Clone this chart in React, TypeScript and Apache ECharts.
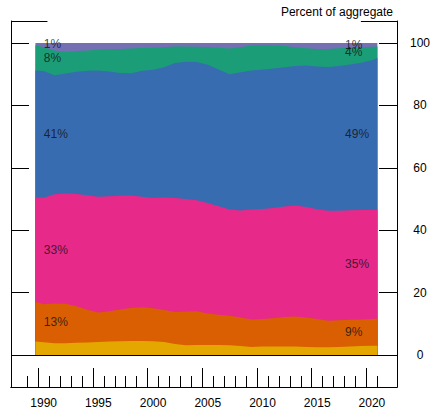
import React, { useEffect, useRef } from "react";
import * as echarts from "echarts";

// Observation dates (decimal years)
const periods = [
  1989.75, 1990.5, 1991.5, 1992.5, 1993.5, 1994.5, 1995.5, 1996.5, 1997.5, 1998.5,
  1999.5, 2000.5, 2001.5, 2002.5, 2003.5, 2004.5, 2005.5, 2006.5, 2007.5, 2008.5,
  2009.5, 2010.5, 2011.5, 2012.5, 2013.5, 2014.5, 2015.5, 2016.5, 2017.5, 2018.5,
  2019.5, 2020.5, 2021.0,
];

// Shares of the aggregate, percent, listed bottom to top of the stack
const shareYellow = [
  4.3, 4.1, 3.8, 3.8, 3.9, 4.0, 4.2, 4.3, 4.4, 4.5, 4.5, 4.4, 4.2, 3.5, 3.1, 3.2, 3.2,
  3.2, 3.1, 2.9, 2.6, 2.7, 2.7, 2.7, 2.7, 2.6, 2.5, 2.5, 2.6, 2.7, 2.9, 3.0, 3.0,
];
const shareOrange = [
  12.8, 12.2, 12.7, 12.6, 11.7, 10.5, 9.4, 9.7, 10.2, 10.6, 10.8, 10.6, 10.2, 10.3, 10.8,
  10.8, 10.1, 9.7, 9.5, 9.1, 8.8, 8.8, 9.1, 9.5, 9.6, 9.4, 9.0, 8.5, 8.5, 8.6, 8.5, 8.5, 8.7,
];
const sharePink = [
  33.4, 34.1, 35.0, 35.4, 36.0, 36.7, 37.1, 36.9, 36.4, 36.0, 35.4, 35.3, 36.1, 36.5, 36.1,
  35.6, 35.4, 34.8, 34.0, 34.3, 35.2, 35.3, 35.3, 35.4, 35.6, 35.4, 35.2, 35.2, 35.1, 35.1,
  35.1, 35.0, 34.9,
];
const shareBlue = [
  40.7, 40.6, 38.2, 38.4, 39.2, 39.9, 40.5, 40.0, 39.4, 39.2, 40.4, 41.1, 41.7, 43.3, 44.0,
  44.3, 44.3, 43.8, 43.4, 44.3, 44.6, 44.7, 44.7, 44.6, 44.7, 45.4, 45.8, 46.1, 46.4, 46.7,
  47.2, 48.0, 48.6,
];
const shareGreen = [
  8.1, 7.6, 7.9, 7.0, 6.6, 6.5, 6.6, 7.1, 7.7, 7.9, 7.3, 7.1, 6.4, 5.3, 4.9, 4.9, 5.7, 7.0,
  8.2, 8.0, 8.0, 7.8, 7.4, 6.8, 6.0, 5.5, 5.6, 5.8, 5.7, 5.4, 4.9, 4.3, 3.7,
];
const sharePurple = [
  0.7, 1.4, 2.4, 2.8, 2.6, 2.4, 2.2, 2.0, 1.9, 1.8, 1.6, 1.5, 1.4, 1.1, 1.1, 1.2, 1.3, 1.5,
  1.8, 1.4, 0.8, 0.7, 0.8, 1.0, 1.4, 1.7, 1.9, 1.9, 1.7, 1.5, 1.4, 1.2, 1.1,
];

// Axis ticks and labels
const yTicks = [0, 20, 40, 60, 80, 100];
const yearTicks = [
  1989, 1990, 1991, 1992, 1993, 1994, 1995, 1996, 1997, 1998, 1999, 2000, 2001, 2002,
  2003, 2004, 2005, 2006, 2007, 2008, 2009, 2010, 2011, 2012, 2013, 2014, 2015, 2016,
  2017, 2018, 2019, 2020, 2021,
];
const majorYears = [1990, 1995, 2000, 2005, 2010, 2015, 2020];

const bands = [
  { name: "Yellow", color: "#E4A700", values: shareYellow, labelled: false },
  { name: "Orange", color: "#D95F02", values: shareOrange, labelled: true },
  { name: "Pink", color: "#E7298A", values: sharePink, labelled: true },
  { name: "Blue", color: "#386CB0", values: shareBlue, labelled: true },
  { name: "Green", color: "#1B9E77", values: shareGreen, labelled: true },
  { name: "Purple", color: "#7570B3", values: sharePurple, labelled: true },
];

// Axis extents chosen so the frame sits around the plotted period
const X_MIN = 1987.518;
const X_MAX = 2022.79;
const Y_MIN = -10.26;
const Y_MAX = 107.05;
const LEFT_LABEL_X = 1990.52;
const RIGHT_LABEL_X = 2018.05;
const FONT = "'Liberation Sans', Arial, Helvetica, sans-serif";

// Running totals: tops[k][i] is the upper edge of band k at period i
function cumulativeTops() {
  const tops: number[][] = [];
  const running = periods.map(() => 0);
  for (const b of bands) {
    b.values.forEach((v, i) => {
      running[i] += v;
    });
    tops.push(running.slice());
  }
  return tops;
}

function bandLabels(index: number, x: number) {
  const out: { value: number[]; name: string }[] = [];
  let base = 0;
  for (const b of bands) {
    const v = b.values[index];
    if (b.labelled) {
      out.push({ value: [x, base + v / 2], name: `${Math.round(v)}%` });
    }
    base += v;
  }
  return out;
}

export default function App() {
  const ref = useRef<HTMLDivElement>(null);

  useEffect(() => {
    if (!ref.current) return;
    const chart = echarts.init(ref.current, undefined, { renderer: "svg" });

    const tops = cumulativeTops();
    // Each band is filled from zero up to its running total; the upper bands are
    // drawn first so every lower band paints over them.
    const areaSeries = bands
      .map((b, k) => ({
        name: b.name,
        type: "line",
        xAxisIndex: 0,
        yAxisIndex: 0,
        symbol: "none",
        lineStyle: { width: 0 },
        areaStyle: { color: b.color, opacity: 1 },
        itemStyle: { color: b.color },
        data: periods.map((t, i) => [t, tops[k][i]]),
      }))
      .reverse();

    const lastIndex = periods.length - 1;
    const labelSeries = {
      type: "scatter",
      xAxisIndex: 0,
      yAxisIndex: 0,
      symbolSize: 1,
      itemStyle: { color: "transparent" },
      z: 5,
      label: {
        show: true,
        formatter: "{b}",
        position: "inside",
        align: "left",
        verticalAlign: "middle",
        color: "#111",
        fontSize: 12,
        fontFamily: FONT,
      },
      data: [...bandLabels(0, LEFT_LABEL_X), ...bandLabels(lastIndex, RIGHT_LABEL_X)],
      markLine: {
        silent: true,
        symbol: ["none", "none"],
        label: { show: false },
        lineStyle: { color: "#000", width: 1, type: "solid" },
        data: [
          [{ coord: [X_MIN, Y_MAX] }, { coord: [1990.85, Y_MAX] }],
          [{ coord: [2019.49, Y_MAX] }, { coord: [X_MAX, Y_MAX] }],
          [{ coord: [X_MIN, 0] }, { coord: [X_MAX, 0] }],
        ],
      },
    };

    chart.setOption({
      animation: false,
      title: {
        text: "Percent of aggregate",
        right: 35,
        top: 1,
        textStyle: { fontSize: 12, fontWeight: "normal", color: "#000", fontFamily: FONT },
      },
      grid: { left: 11, right: 34, top: 21, bottom: 28, containLabel: false },
      xAxis: [
        {
          type: "value",
          position: "bottom",
          min: X_MIN,
          max: X_MAX,
          axisLine: { show: true, onZero: false, lineStyle: { color: "#000", width: 1 } },
          axisTick: {
            show: true,
            inside: true,
            length: 11,
            customValues: yearTicks,
            lineStyle: { color: "#000", width: 1 },
          },
          axisLabel: { show: false },
          splitLine: { show: false },
        },
        {
          type: "value",
          position: "bottom",
          min: X_MIN,
          max: X_MAX,
          axisLine: { show: true, onZero: false, lineStyle: { color: "#000", width: 1 } },
          axisTick: {
            show: true,
            inside: true,
            length: 19,
            customValues: majorYears,
            lineStyle: { color: "#000", width: 1 },
          },
          axisLabel: {
            show: true,
            customValues: majorYears.map((y) => y + 0.5),
            formatter: (v: number) => String(Math.floor(v)),
            margin: 10,
            color: "#000",
            fontSize: 12,
            fontFamily: FONT,
          },
          splitLine: { show: false },
        },
      ],
      yAxis: [
        {
          type: "value",
          position: "right",
          min: Y_MIN,
          max: Y_MAX,
          axisLine: { show: true, onZero: false, lineStyle: { color: "#000", width: 1 } },
          axisTick: {
            show: true,
            inside: true,
            length: 18,
            customValues: yTicks,
            lineStyle: { color: "#000", width: 1 },
          },
          axisLabel: {
            show: true,
            customValues: yTicks,
            align: "center",
            margin: 23,
            color: "#000",
            fontSize: 12,
            fontFamily: FONT,
          },
          splitLine: { show: false },
        },
        {
          type: "value",
          position: "left",
          min: Y_MIN,
          max: Y_MAX,
          axisLine: { show: true, onZero: false, lineStyle: { color: "#000", width: 1 } },
          axisTick: {
            show: true,
            inside: true,
            length: 18,
            customValues: yTicks,
            lineStyle: { color: "#000", width: 1 },
          },
          axisLabel: { show: false },
          splitLine: { show: false },
        },
      ],
      series: [...areaSeries, labelSeries],
    });

    return () => chart.dispose();
  }, []);

  return (
    <div
      ref={ref}
      style={{ position: "fixed", left: 0, top: 0, width: 433, height: 415, background: "#fff" }}
    />
  );
}
